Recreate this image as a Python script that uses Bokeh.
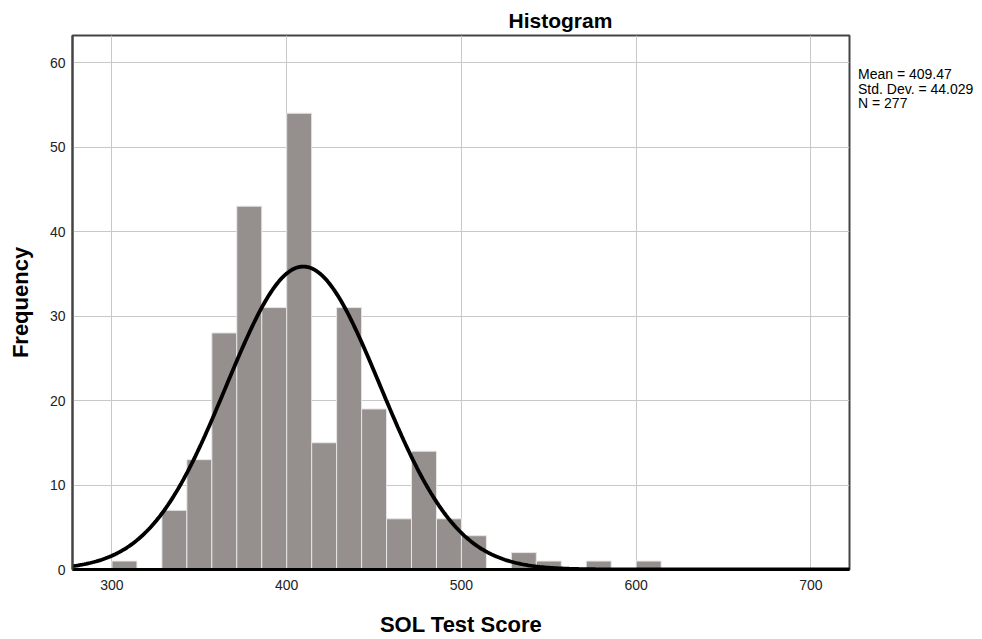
import numpy as np
from bokeh.plotting import figure
from bokeh.layouts import row
from bokeh.models import Range1d, FixedTicker, Div
from bokeh.embed import file_html
from bokeh.resources import INLINE

# Histogram data (bin width 100/7, bins start at 300)
bin_start = 300.0
bin_width = 100.0 / 7.0
counts = [1, 0, 7, 13, 28, 43, 31, 54, 15, 31, 19, 6, 14, 6, 4, 0, 2, 1, 0, 1, 0, 1]
mean = 409.47
std = 44.029
n = 277
x_ticks = [300, 400, 500, 600, 700]
y_ticks = [0, 10, 20, 30, 40, 50, 60]
stats_lines = ["Mean = 409.47", "Std. Dev. = 44.029", "N = 277"]

lefts = [bin_start + i * bin_width for i in range(len(counts))]
rights = [l + bin_width for l in lefts]

FONT = "Liberation Sans"

p = figure(width=855, height=639, output_backend="svg", toolbar_location=None,
           x_range=Range1d(277.4, 722.1), y_range=Range1d(0, 63.2),
           min_border_left=72, min_border_right=6, min_border_top=35,
           min_border_bottom=70)

p.title.text = "Histogram"
p.title.align = "left"
p.title.offset = 436
p.title.text_font = FONT
p.title.text_font_size = "21px"
p.title.text_font_style = "bold"
p.title.text_color = "black"
p.title.standoff = 8

p.outline_line_color = "#444444"
p.outline_line_width = 2
p.background_fill_color = "white"
p.border_fill_color = "white"

p.xgrid.ticker = FixedTicker(ticks=x_ticks)
p.ygrid.ticker = FixedTicker(ticks=y_ticks)
p.grid.grid_line_color = "#c8c8c8"
p.grid.grid_line_width = 1

p.quad(left=lefts, right=rights, bottom=0, top=counts,
       fill_color="#958f8d", line_color="#e6e6e6", line_width=1)

xs = np.linspace(277.4, 722.1, 400)
ys = n * bin_width * np.exp(-0.5 * ((xs - mean) / std) ** 2) / (std * np.sqrt(2 * np.pi))
p.line(xs, ys, line_color="black", line_width=3.8)

for ax in (p.xaxis, p.yaxis):
    ax.major_tick_line_color = None
    ax.minor_tick_line_color = None
    ax.major_tick_out = 0
    ax.major_tick_in = 0
    ax.major_label_text_font = FONT
    ax.major_label_text_font_size = "14px"
    ax.major_label_text_color = "#222222"
    ax.axis_label_text_font = FONT
    ax.axis_label_text_font_size = "22px"
    ax.axis_label_text_font_style = "bold"
    ax.axis_label_text_color = "black"

p.xaxis.ticker = FixedTicker(ticks=x_ticks)
p.yaxis.ticker = FixedTicker(ticks=y_ticks)
p.xaxis.axis_label = "SOL Test Score"
p.yaxis.axis_label = "Frequency"
p.xaxis.axis_line_color = "black"
p.xaxis.axis_line_width = 3
p.yaxis.axis_line_color = "#444444"
p.yaxis.axis_line_width = 2
p.xaxis.major_label_standoff = 10
p.xaxis.axis_label_standoff = 19
p.yaxis.major_label_standoff = 7
p.yaxis.axis_label_standoff = 14

stats_html = ('<div style="padding-top:62px;margin-left:-2px;font-family:\'Liberation Sans\';'
              'font-size:14px;line-height:14.5px;color:black;white-space:nowrap;">'
              + "<br>".join(stats_lines) + "</div>")
stats = Div(text=stats_html, width=125, height=140)

layout = row(p, stats)

open("out.html", "w").write(file_html(layout, INLINE))
